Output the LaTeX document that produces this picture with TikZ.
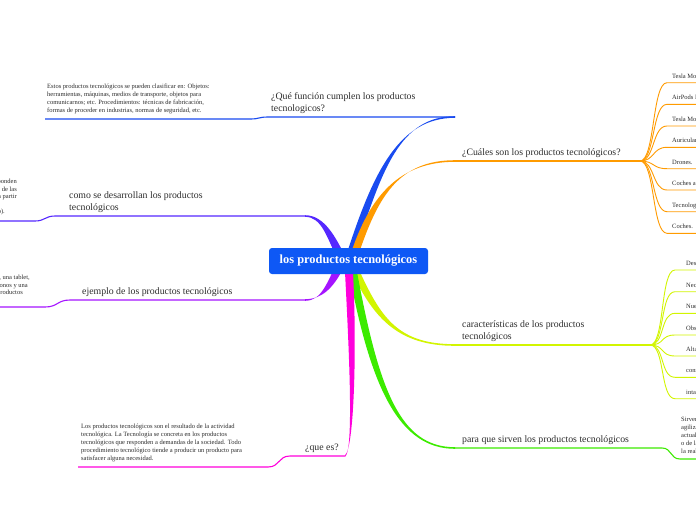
\documentclass[tikz,border=0pt]{standalone}
\usepackage{fontspec}
\setmainfont{Liberation Serif}
\usetikzlibrary{calc}
\definecolor{cblue}{RGB}{14,88,245}
\definecolor{bbranch}{RGB}{25,75,240}
\definecolor{corange}{RGB}{255,155,0}
\definecolor{clime}{RGB}{210,245,0}
\definecolor{cgreen}{RGB}{60,235,0}
\definecolor{cmag}{RGB}{255,0,220}
\definecolor{cpurple}{RGB}{165,20,255}
\definecolor{cviolet}{RGB}{85,40,255}
\definecolor{txt}{RGB}{45,45,45}
\tikzset{
 topic/.style={anchor=south west, align=left, inner sep=0pt, font=\fontsize{9.8}{11.8}\selectfont, text=txt},
 smalltxt/.style={anchor=base west, inner sep=0pt, font=\fontsize{6.5}{8}\selectfont, text=txt},
 smallend/.style={anchor=base east, inner sep=0pt, font=\fontsize{6.5}{8}\selectfont, text=txt},
 smallblock/.style={anchor=north west, align=left, inner sep=0pt, font=\fontsize{6.5}{8}\selectfont, text=txt},
 leaf/.style={line width=0.9pt},
 uline/.style={line width=1.1pt},
 rootbox/.style={fill=cblue, rounded corners=3pt, minimum width=159pt, minimum height=26pt, inner sep=0pt, text=white, font=\bfseries\fontsize{12.4}{14}\selectfont},
}
% tapered branch: colour, start, c1, c2, end, start offset
\newcommand{\tbranch}[6]{%
 \fill[#1] ($(#2)+#6$) .. controls ($(#3)+#6$) and ($(#4)+(0,-0.8)$) .. ($(#5)+(0,-0.8)$)
   -- ($(#5)+(0,0.8)$) .. controls ($(#4)+(0,0.8)$) and ($(#3)-#6$) .. ($(#2)-#6$) -- cycle;}
\newcommand{\fanleaf}[4]{% colour, origin, leaf start, leaf end
 \draw[#1, leaf] (#2) .. controls ($(#2)+(15,0)$) and ($(#3)+(-15,0)$) .. (#3) -- (#4);}
\begin{document}
\begin{tikzpicture}[x=1pt,y=-1pt]
\fill[white] (0,0) rectangle (696,520);
\useasboundingbox (0,0) rectangle (696,520);
\clip (0,0) rectangle (696,520);

% ---------- coordinates ----------
\coordinate (bS) at (352,250); \coordinate (bC1) at (378,170); \coordinate (bC2) at (400,117); \coordinate (bE) at (455,117);
\coordinate (bL) at (268,117); \coordinate (bSub) at (250,119); \coordinate (bSubE) at (45,119);

\coordinate (oS) at (356,250); \coordinate (oC1) at (375,195); \coordinate (oC2) at (400,161); \coordinate (oE) at (455,161);
\coordinate (oF) at (640,161);

\coordinate (lS) at (356,272); \coordinate (lC1) at (378,320); \coordinate (lC2) at (400,345); \coordinate (lE) at (455,345);
\coordinate (lF) at (650,345);

\coordinate (gS) at (353,272); \coordinate (gC1) at (375,390); \coordinate (gC2) at (400,448); \coordinate (gE) at (455,448);
\coordinate (gR) at (662,448); \coordinate (gSub) at (680,459); \coordinate (gSubE) at (696,459);

\coordinate (mS) at (349,272); \coordinate (mC1) at (353,350); \coordinate (mC2) at (354,450); \coordinate (mE) at (345,456);
\coordinate (mL) at (290,456); \coordinate (mSub) at (268,467); \coordinate (mSubE) at (78,467);

\coordinate (vS) at (340,255); \coordinate (vC1) at (330,235); \coordinate (vC2) at (322,216); \coordinate (vE) at (305,216);
\coordinate (vL) at (55,216); \coordinate (vSub) at (35,221); \coordinate (vSubE) at (0,221);

\coordinate (pS) at (340,266); \coordinate (pC1) at (330,285); \coordinate (pC2) at (322,300); \coordinate (pE) at (305,300);
\coordinate (pL) at (70,300); \coordinate (pSub) at (45,307); \coordinate (pSubE) at (0,307);

% ---------- main branches ----------
\tbranch{bbranch}{bS}{bC1}{bC2}{bE}{(4,0)}
\tbranch{corange}{oS}{oC1}{oC2}{oE}{(4,0)}
\tbranch{clime}{lS}{lC1}{lC2}{lE}{(4,0)}
\tbranch{cgreen}{gS}{gC1}{gC2}{gE}{(4,0)}
\tbranch{cmag}{mS}{mC1}{mC2}{mE}{(4,0)}
\tbranch{cviolet}{vS}{vC1}{vC2}{vE}{(3,-3)}
\tbranch{cpurple}{pS}{pC1}{pC2}{pE}{(3,3)}

% ---------- underlines ----------
\draw[bbranch, uline] (bE) -- (bL) .. controls (258,117) and (260,119) .. (bSub) -- (bSubE);
\draw[corange, uline] (oE) -- (oF);
\draw[clime, uline] (lE) -- (lF);
\draw[cgreen, uline] (gE) -- (gR) .. controls (672,448) and (670,459) .. (gSub) -- (gSubE);
\draw[cmag, uline] (mE) -- (mL) .. controls (278,456) and (280,467) .. (mSub) -- (mSubE);
\draw[cviolet, uline] (vE) -- (vL) .. controls (45,216) and (45,221) .. (vSub) -- (vSubE);
\draw[cpurple, uline] (pE) -- (pL) .. controls (57,300) and (58,307) .. (pSub) -- (pSubE);

% ---------- orange leaves ----------
\foreach \i/\y in {1/82.7,2/104.3,3/126,4/147.3,5/168.7,6/190,7/211.7,8/233.3}{
  \coordinate (o\i) at (667,\y); \coordinate (o\i e) at (696,\y);
  \fanleaf{corange}{oF}{o\i}{o\i e}
}
\node[smalltxt] (ot1) at (672,78.2) {Tesla Model S};
\node[smalltxt] (ot2) at (672,99.8) {AirPods Pro};
\node[smalltxt] (ot3) at (672,121.5) {Tesla Model X};
\node[smalltxt] (ot4) at (672,142.8) {Auriculares};
\node[smalltxt] (ot5) at (672,164.2) {Drones.};
\node[smalltxt] (ot6) at (672,185.5) {Coches autónomos};
\node[smalltxt] (ot7) at (672,207.2) {Tecnología};
\node[smalltxt] (ot8) at (672,228.8) {Coches.};

% ---------- lime leaves ----------
\foreach \i/\y in {1/270,2/291.7,3/313.3,4/335,5/356,6/377.3,7/398.7}{
  \coordinate (l\i) at (675,\y); \coordinate (l\i e) at (696,\y);
  \fanleaf{clime}{lF}{l\i}{l\i e}
}
\node[smalltxt] (lt1) at (686,265.5) {Desarrollo};
\node[smalltxt] (lt2) at (686,287.2) {Necesidad};
\node[smalltxt] (lt3) at (686,308.8) {Nuevos};
\node[smalltxt] (lt4) at (686,330.5) {Obsolescencia};
\node[smalltxt] (lt5) at (686,351.5) {Alta};
\node[smalltxt] (lt6) at (686,372.8) {constante};
\node[smalltxt] (lt7) at (686,394.2) {intangibles};

% ---------- topic labels ----------
\node[topic] (t1) at (271,114) {¿Qué función cumplen los productos\\tecnologicos?};
\node[topic] (t2) at (462,158) {¿Cuáles son los productos tecnológicos?};
\node[topic] (t3) at (462,342) {características de los productos\\tecnológicos};
\node[topic] (t4) at (462,445) {para que sirven los productos tecnológicos};
\node[topic] (t5) at (305,453) {¿que es?};
\node[topic] (t6) at (69,213) {como se desarrollan los productos\\tecnológicos};
\node[topic] (t7) at (82,297) {ejemplo de los productos tecnológicos};

% ---------- text blocks ----------
\node[smallblock] (s1) at (47,84) {Estos productos tecnológicos se pueden clasificar en: Objetos:\\herramientas, máquinas, medios de transporte, objetos para\\comunicarnos; etc. Procedimientos: técnicas de fabricación,\\formas de proceder en industrias, normas de seguridad, etc.};
\node[smallblock] (s2) at (81,424) {Los productos tecnológicos son el resultado de la actividad\\tecnológica. La Tecnología se concreta en los productos\\tecnológicos que responden a demandas de la sociedad. Todo\\procedimiento tecnológico tiende a producir un producto para\\satisfacer alguna necesidad.};
\node[smallblock] (s3) at (681,417) {Sirven para\\agilizar\\actualmente\\o de la\\la realización};
\node[smallend] (s4a) at (17,183.5) {productos tecnológicos que responden};
\node[smallend] (s4b) at (17,191) {a las necesidades de las};
\node[smallend] (s4c) at (17,198.5) {personas, y se crean a partir};
\node[smallend] (s4d) at (5,213.5) {(prototipo).};
\node[smallend] (s5a) at (30,279.5) {Por ejemplo un ordenador, una tablet,};
\node[smallend] (s5b) at (28,287) {unos audífonos y una};
\node[smallend] (s5c) at (23,294.5) {consola son productos};

% ---------- root ----------
\node[rootbox] (root) at (348.5,261) {los productos tecnológicos};
\end{tikzpicture}
\end{document}
